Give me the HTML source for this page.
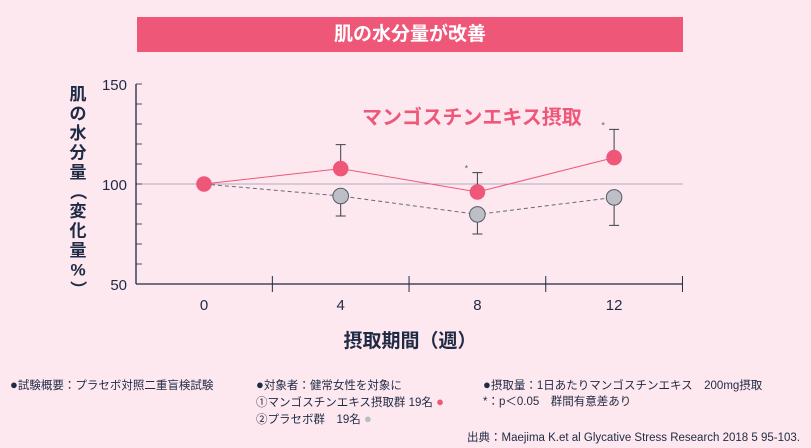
<!DOCTYPE html>
<html><head><meta charset="utf-8">
<style>
body{margin:0;background:#fde8ef;font-family:"Liberation Sans","Noto Sans CJK JP",sans-serif;color:#1f2a44}
#wrap{position:relative;width:811px;height:448px;overflow:hidden;background:#fde8ef}
.t{position:absolute;white-space:nowrap;font-size:11.5px}
.b{font-size:13px}
</style></head><body>
<div id="wrap">
<div style="position:absolute;left:137px;top:17px;width:546px;height:35px;background:#ef5779;color:#fff;font-weight:bold;font-size:19px;text-align:center;line-height:35px">肌の水分量が改善</div>
<svg id="c" width="811" height="448" style="position:absolute;left:0;top:0"></svg>
<div class="t" style="left:10px;top:377px"><span class="b">●</span>試験概要：プラセボ対照二重盲検試験</div>
<div class="t" style="left:256px;top:377px;line-height:16px"><span class="b">●</span>対象者：健常女性を対象に<br>①マンゴスチンエキス摂取群 19名 <span class="b" style="color:#ef5779">●</span><br>②プラセボ群　19名 <span class="b" style="color:#b8bcc4">●</span></div>
<div class="t" style="left:483px;top:377px;line-height:16px"><span class="b">●</span>摂取量：1日あたりマンゴスチンエキス　200mg摂取<br>*：p＜0.05　群間有意差あり</div>
<div class="t" style="right:11px;top:429px">出典：Maejima K.et al Glycative Stress Research 2018 5 95-103.</div>
</div>
<script>
const weeks=[0,4,8,12];
const xTickLabels=["0","4","8","12"];
const yTickLabels=[50,100,150];
const mango=[100,107.7,96,113.2];
const mangoUpper=[null,119.7,105.7,127.3];
const placebo=[100,94,84.8,93.3];
const placeboLower=[null,84,75,79.3];
const sig=[false,false,true,true];
const NS="http://www.w3.org/2000/svg",svg=document.getElementById('c');
const X=w=>204+(w/4)*136.7, Y=v=>284-(v-50)*2;
function mk(t,a,p){const e=document.createElementNS(NS,t);for(const k in a)e.setAttribute(k,a[k]);(p||svg).appendChild(e);return e;}
let e;
e=mk('line',{x1:136,y1:Y(100),x2:683,y2:Y(100),stroke:'#b4aabb','stroke-width':1});

e=mk('line',{x1:136,y1:84,x2:136,y2:284,stroke:'#1f2a44','stroke-width':1.3});

e=mk('line',{x1:136,y1:284,x2:683,y2:284,stroke:'#1f2a44','stroke-width':1.3});

for(let v=50;v<=150;v+=10){e=mk('line',{x1:136,y1:Y(v),x2:142,y2:Y(v),stroke:'#1f2a44','stroke-width':0.8});
}
yTickLabels.forEach(v=>{e=mk('text',{x:127,y:Y(v)+6,'text-anchor':'end','font-size':15,fill:'#1f2a44'});e.textContent=v;
});
[2,6,10,14].forEach(w=>{e=mk('line',{x1:X(w),y1:276,x2:X(w),y2:292,stroke:'#1f2a44','stroke-width':1});
});
weeks.forEach((w,i)=>{e=mk('text',{x:X(w),y:310,'text-anchor':'middle','font-size':15,fill:'#1f2a44'});e.textContent=xTickLabels[i];
});
e=mk('text',{x:410,y:347,'text-anchor':'middle','font-size':19,'font-weight':'bold',fill:'#1f2a44'});e.textContent='摂取期間（週）';

'肌の水分量（変化量%）'.split('').forEach((ch,i)=>{e=mk('text',{x:78,y:100+i*19.5,'text-anchor':'middle','font-size':17,'font-weight':'bold',fill:'#1f2a44',transform:(ch==='（'||ch==='）')?`rotate(90 78 ${94+i*19.5})`:''});e.textContent=ch;
});
e=mk('text',{x:362,y:124,'font-size':20,'font-weight':'bold',fill:'#ef5779'});e.textContent='マンゴスチンエキス摂取';

e=mk('polyline',{points:weeks.map((w,i)=>X(w)+','+Y(placebo[i])).join(' '),fill:'none',stroke:'#666a75','stroke-width':1,'stroke-dasharray':'4,3'});

e=mk('polyline',{points:weeks.map((w,i)=>X(w)+','+Y(mango[i])).join(' '),fill:'none',stroke:'#ef5779','stroke-width':1});

function err(x,y1,y2,name){e=mk('path',{d:`M${x},${y1}V${y2}M${x-5},${y2}H${x+5}`,stroke:'#3a3f4c','stroke-width':1,fill:'none'});
}
weeks.forEach((w,i)=>{
 if(placeboLower[i]!=null)err(X(w),Y(placebo[i]),Y(placeboLower[i]),'placebo-error-bar');
 if(mangoUpper[i]!=null)err(X(w),Y(mango[i]),Y(mangoUpper[i]),'mango-error-bar');
 if(sig[i]){e=mk('text',{x:X(w)-11,y:Y(mangoUpper[i])-1,'font-size':9,fill:'#666','text-anchor':'middle'});e.textContent='*';
 }
});
weeks.forEach((w,i)=>{if(i>0){e=mk('circle',{cx:X(w),cy:Y(placebo[i]),r:7.8,fill:'#bcbfc6',stroke:'#555a66','stroke-width':1});
}});
weeks.forEach((w,i)=>{e=mk('circle',{cx:X(w),cy:Y(mango[i]),r:7.8,fill:'#ef5779'});
});
</script>
</body></html>
